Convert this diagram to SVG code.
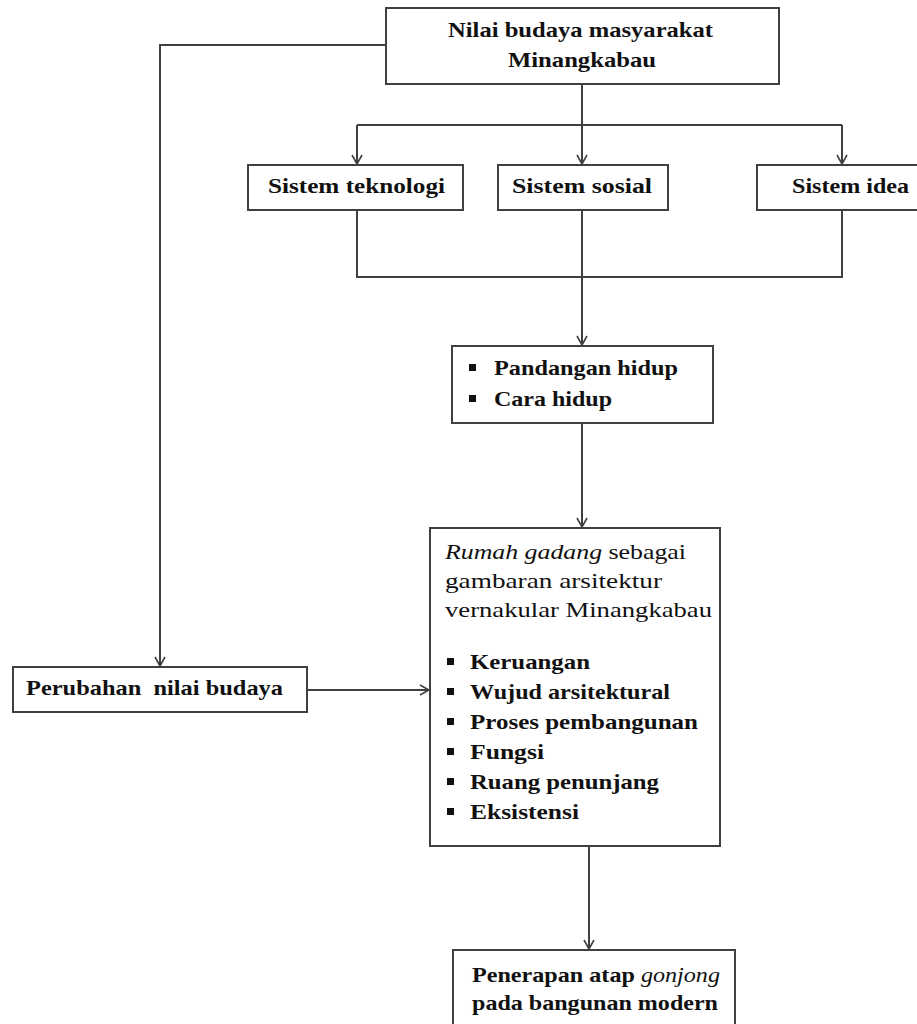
<svg xmlns="http://www.w3.org/2000/svg" width="917" height="1024" viewBox="0 0 917 1024">
<style>
.box{fill:#ffffff;stroke:#404040;stroke-width:2}
.ln{fill:none;stroke:#404040;stroke-width:2}
.t{font-family:'Liberation Serif','Times New Roman',Times,serif;font-size:22px;font-weight:bold;fill:#111;white-space:pre}
.n{font-weight:normal}
.bul{fill:#111}
</style>
<defs>
<marker id="ar" viewBox="-11 -6 12 12" refX="0" refY="0" markerWidth="12" markerHeight="12" markerUnits="userSpaceOnUse" orient="auto">
<path d="M-9,-5 L0,0 L-9,5" fill="none" stroke="#404040" stroke-width="1.6"/>
</marker>
</defs>
<rect width="917" height="1024" fill="#ffffff"/>
<g id="connectors">
<path class="ln" d="M582,84 V125"/>
<path class="ln" d="M357,125 H842"/>
<path class="ln" d="M357,125 V164" marker-end="url(#ar)"/>
<path class="ln" d="M582,125 V164" marker-end="url(#ar)"/>
<path class="ln" d="M842,125 V164" marker-end="url(#ar)"/>
<path class="ln" d="M357,210 V277 H842 V210"/>
<path class="ln" d="M582,210 V345" marker-end="url(#ar)"/>
<path class="ln" d="M582,423 V527" marker-end="url(#ar)"/>
<path class="ln" d="M386,45 H160 V666" marker-end="url(#ar)"/>
<path class="ln" d="M307,690 H429" marker-end="url(#ar)"/>
<path class="ln" d="M589,846 V949" marker-end="url(#ar)"/>
</g>
<g id="nilai">
<rect class="box" x="386" y="8" width="393" height="76"/>
<text class="t" x="448" y="37" textLength="265" lengthAdjust="spacingAndGlyphs" font-family="Liberation Serif">Nilai budaya masyarakat</text>
<text class="t" x="508" y="67" textLength="148" lengthAdjust="spacingAndGlyphs" font-family="Liberation Serif">Minangkabau</text>
</g>
<g id="teknologi">
<rect class="box" x="248" y="165" width="215" height="45"/>
<text class="t" x="268" y="193" textLength="177" lengthAdjust="spacingAndGlyphs">Sistem teknologi</text>
</g>
<g id="sosial">
<rect class="box" x="498" y="165" width="170" height="45"/>
<text class="t" x="512" y="193" textLength="140" lengthAdjust="spacingAndGlyphs">Sistem sosial</text>
</g>
<g id="idea">
<rect class="box" x="757" y="165" width="180" height="45"/>
<text class="t" x="792" y="193" textLength="117" lengthAdjust="spacingAndGlyphs">Sistem idea</text>
</g>
<g id="pandangan">
<rect class="box" x="452" y="346" width="261" height="77"/>
<rect class="bul" x="469" y="364" width="7" height="7"/>
<text class="t" x="494" y="375" textLength="184" lengthAdjust="spacingAndGlyphs">Pandangan hidup</text>
<rect class="bul" x="469" y="395" width="7" height="7"/>
<text class="t" x="494" y="406" textLength="118" lengthAdjust="spacingAndGlyphs">Cara hidup</text>
</g>
<g id="perubahan">
<rect class="box" x="13" y="667" width="294" height="45"/>
<text class="t" x="26" y="695" textLength="257" lengthAdjust="spacingAndGlyphs">Perubahan  nilai budaya</text>
</g>
<g id="rumah">
<rect class="box" x="430" y="528" width="290" height="318"/>
<text class="t n" x="445" y="559" textLength="241" lengthAdjust="spacingAndGlyphs"><tspan font-style="italic">Rumah gadang</tspan> sebagai</text>
<text class="t n" x="445" y="588" textLength="217" lengthAdjust="spacingAndGlyphs">gambaran arsitektur</text>
<text class="t n" x="445" y="617" textLength="267" lengthAdjust="spacingAndGlyphs">vernakular Minangkabau</text>
<rect class="bul" x="447" y="658" width="7" height="7"/>
<text class="t" x="470" y="669" textLength="120" lengthAdjust="spacingAndGlyphs">Keruangan</text>
<rect class="bul" x="447" y="688" width="7" height="7"/>
<text class="t" x="470" y="699" textLength="200" lengthAdjust="spacingAndGlyphs">Wujud arsitektural</text>
<rect class="bul" x="447" y="718" width="7" height="7"/>
<text class="t" x="470" y="729" textLength="228" lengthAdjust="spacingAndGlyphs">Proses pembangunan</text>
<rect class="bul" x="447" y="748" width="7" height="7"/>
<text class="t" x="470" y="759" textLength="74" lengthAdjust="spacingAndGlyphs">Fungsi</text>
<rect class="bul" x="447" y="778" width="7" height="7"/>
<text class="t" x="470" y="789" textLength="189" lengthAdjust="spacingAndGlyphs">Ruang penunjang</text>
<rect class="bul" x="447" y="808" width="7" height="7"/>
<text class="t" x="470" y="819" textLength="109" lengthAdjust="spacingAndGlyphs">Eksistensi</text>
</g>
<g id="penerapan">
<rect class="box" x="453" y="950" width="282" height="100"/>
<text class="t" x="472" y="982" textLength="248" lengthAdjust="spacingAndGlyphs">Penerapan atap <tspan font-style="italic" font-weight="normal">gonjong</tspan></text>
<text class="t" x="472" y="1010" textLength="246" lengthAdjust="spacingAndGlyphs">pada bangunan modern</text>
</g>
</svg>
